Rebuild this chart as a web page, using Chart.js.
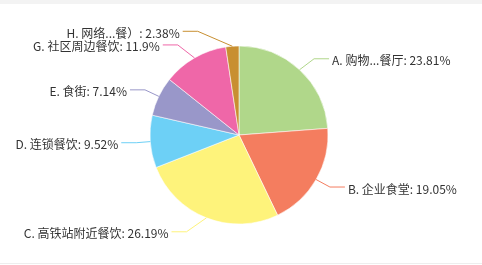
<!DOCTYPE html>
<html>
<head>
<meta charset="utf-8">
<title>餐饮类型分布</title>
<script src="https://cdn.jsdelivr.net/npm/chart.js@4/dist/chart.umd.min.js"></script>
<style>
  html, body { margin: 0; padding: 0; background: #fff; }
  canvas { display: block; }
</style>
</head>
<body>
<canvas id="pie" width="482" height="265"></canvas>
<script>
// Category names as shown beside each slice
const categories = [
  'A. 购物...餐厅',
  'B. 企业食堂',
  'C. 高铁站附近餐饮',
  'D. 连锁餐饮',
  'E. 食街',
  'G. 社区周边餐饮',
  'H. 网络...餐）'
];
// Share of each category, in percent
const shares = [23.81, 19.05, 26.19, 9.52, 7.14, 11.9, 2.38];
// Slice colours
const sliceColors = ['#b0d78a', '#f47d5f', '#fef37b', '#6dd0f6', '#9997c9', '#ef67a8', '#c88f31'];

// Leader line geometry (first segment out from the rim, second horizontal segment)
const LINE_LEN = 15;
const LINE_LEN2 = 15;
const TEXT_GAP = 3;
const LABEL_HEIGHT = 12;

// Light frame strips at the top and bottom of the panel
const framePlugin = {
  id: 'frame',
  beforeDraw(chart) {
    const { ctx, width, height } = chart;
    ctx.save();
    ctx.fillStyle = '#ffffff';
    ctx.fillRect(0, 0, width, height);
    ctx.fillStyle = '#f3f3f3';
    ctx.fillRect(0, 0, width, 4);
    ctx.fillStyle = '#eeeeee';
    ctx.fillRect(0, height - 2, width, 1);
    ctx.restore();
  }
};

// Outside labels with two-segment leader lines, spread along a circle
const outsideLabels = {
  id: 'outsideLabels',
  afterDatasetsDraw(chart) {
    const ctx = chart.ctx;
    const meta = chart.getDatasetMeta(0);
    const ds = chart.data.datasets[0];
    const items = meta.data.map((arc, i) => {
      const p = arc.getProps(['x', 'y', 'startAngle', 'endAngle', 'outerRadius'], true);
      const mid = (p.startAngle + p.endAngle) / 2;
      const ux = Math.cos(mid), uy = Math.sin(mid);
      return {
        i,
        cx: p.x, cy: p.y, r: p.outerRadius,
        dir: ux < 0 ? -1 : 1,
        rim: [p.x + p.outerRadius * ux, p.y + p.outerRadius * uy],
        y: p.y + (p.outerRadius + LINE_LEN) * uy
      };
    });

    [-1, 1].forEach(dir => {
      const side = items.filter(it => it.dir === dir).sort((a, b) => a.y - b.y);
      // push overlapping labels downward
      for (let k = 1; k < side.length; k++) {
        const minY = side[k - 1].y + LABEL_HEIGHT;
        if (side[k].y < minY) side[k].y = minY;
      }
      side.forEach(it => {
        const R = it.r + LINE_LEN + LINE_LEN2 - 1;
        const dy = Math.abs(it.y - it.cy);
        const dx = dy < R ? Math.sqrt(R * R - dy * dy) : 0;
        it.end = it.cx + dir * dx;
        it.bend = it.end - dir * LINE_LEN2;
      });
    });

    ctx.save();
    ctx.font = '12px "Microsoft YaHei", "Noto Sans CJK SC", sans-serif';
    ctx.textBaseline = 'middle';
    items.forEach(it => {
      const color = ds.backgroundColor[it.i];
      ctx.strokeStyle = color;
      ctx.lineWidth = 1;
      ctx.beginPath();
      ctx.moveTo(it.rim[0], it.rim[1]);
      ctx.lineTo(it.bend, it.y);
      ctx.lineTo(it.end, it.y);
      ctx.stroke();

      ctx.fillStyle = '#333333';
      ctx.textAlign = it.dir < 0 ? 'right' : 'left';
      const text = chart.data.labels[it.i] + ': ' + ds.data[it.i] + '%';
      ctx.fillText(text, it.end + it.dir * TEXT_GAP, it.y + 2);
    });
    ctx.restore();
  }
};

new Chart(document.getElementById('pie'), {
  type: 'pie',
  data: {
    labels: categories,
    datasets: [{
      data: shares,
      backgroundColor: sliceColors,
      borderColor: 'rgba(255,255,255,0.7)',
      borderWidth: 0.8
    }]
  },
  options: {
    responsive: false,
    animation: false,
    devicePixelRatio: 1,
    radius: 89,
    layout: { padding: { left: 150, right: 154, top: 46, bottom: 41 } },
    plugins: {
      legend: { display: false },
      tooltip: { enabled: false }
    }
  },
  plugins: [framePlugin, outsideLabels]
});
</script>
</body>
</html>
